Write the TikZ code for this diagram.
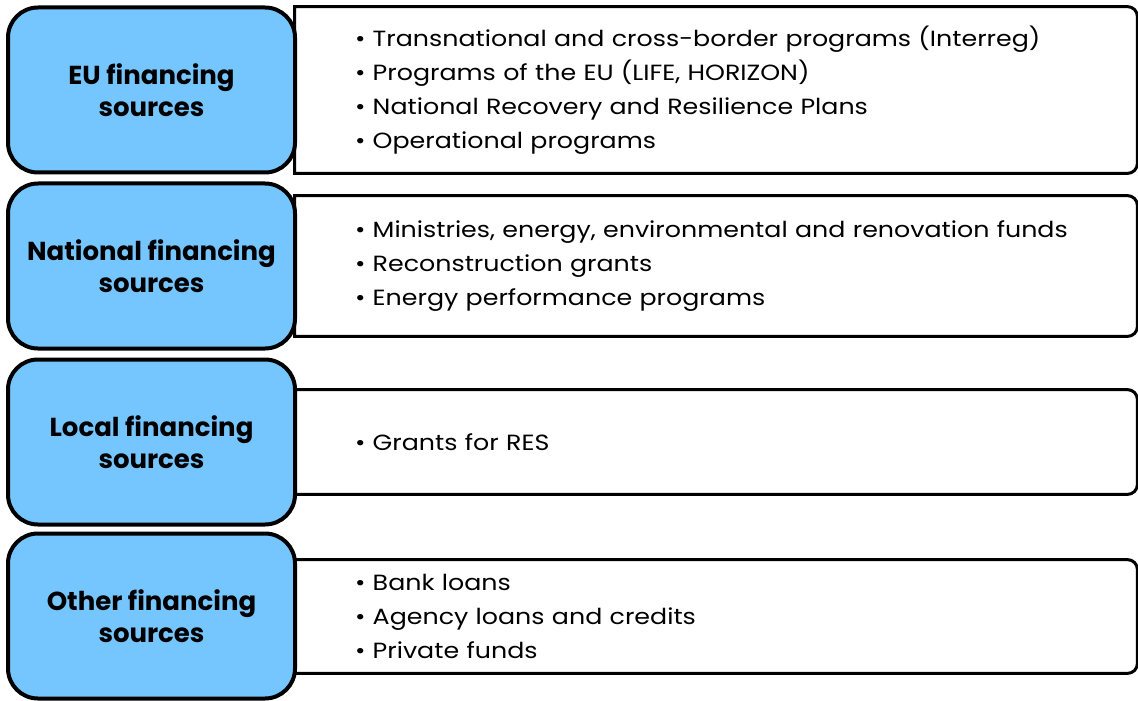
\documentclass[tikz,border=0pt]{standalone}
\usepackage{fontspec}
\setmainfont{Poppins}
\newfontfamily\listfont[FakeStretch=1.15]{Poppins}
\definecolor{srcblue}{RGB}{117,198,255}

\begin{document}
\begin{tikzpicture}[x=0.5pt,y=-0.5pt,
	src/.style={shape=rectangle,draw=black,line width=2pt,fill=srcblue,rounded corners=15pt,
		minimum width=143.5pt,minimum height=82.5pt,align=center,
		font=\bfseries\fontsize{13}{16}\selectfont},
	lst/.style={shape=rectangle,draw=none,fill=white,minimum width=421pt,inner xsep=30pt,
		text width=361pt,align=left,font=\listfont\fontsize{11}{17}\selectfont},
	frame/.style={draw=black,line width=1.5pt}]
	\useasboundingbox (0,0) rectangle (1138,700);

	% lists on the right
	\node[lst,minimum height=83pt]   (eul)  at (716, 90)    {• Transnational and cross-border programs (Interreg)\\
		• Programs of the EU (LIFE, HORIZON)\\
		• National Recovery and Resilience Plans\\
		• Operational programs};
	\node[lst,minimum height=70pt]   (natl) at (716, 266)   {• Ministries, energy, environmental and renovation funds\\
		• Reconstruction grants\\
		• Energy performance programs};
	\node[lst,minimum height=52pt]   (locl) at (716, 442)   {• Grants for RES};
	\node[lst,minimum height=56.5pt] (othl) at (716, 616.5) {• Bank loans\\
		• Agency loans and credits\\
		• Private funds};
	\foreach \n in {eul,natl,locl,othl}
		\draw[frame] (\n.north west) -- ([xshift=-5pt]\n.north east) arc[start angle=90,end angle=0,radius=5pt]
			-- ([yshift=5pt]\n.south east) arc[start angle=0,end angle=-90,radius=5pt] -- (\n.south west) -- cycle;

	% sources on the left
	\node[src] (eu)  at (151.5, 90)  {EU financing\\sources};
	\node[src] (nat) at (151.5, 266) {National financing\\sources};
	\node[src] (loc) at (151.5, 442) {Local financing\\sources};
	\node[src] (oth) at (151.5, 616) {Other financing\\sources};
\end{tikzpicture}
\end{document}
